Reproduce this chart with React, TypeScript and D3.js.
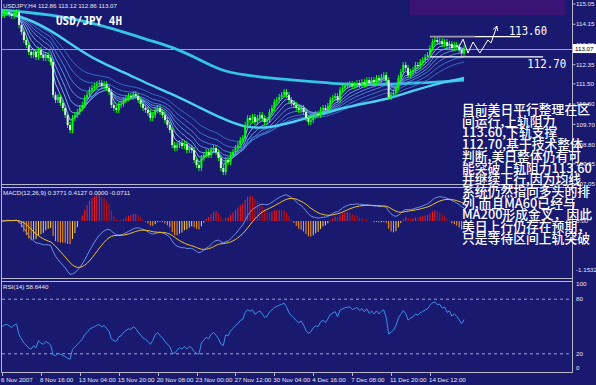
import React from 'react';
import * as d3 from 'd3';

// ---------- data ----------
const closes = [
  114.56, 114.65, 114.69, 114.61, 114.52, 114.65, 114.69, 114.12, 113.81, 113.45,
  113.23, 112.92, 112.78, 112.92, 112.69, 113.01, 112.78, 112.65, 112.78, 112.65,
  112.47, 111.01, 110.78, 110.92, 110.65, 110.43, 110.12, 109.67, 109.45, 109.98,
  110.12, 110.25, 110.43, 110.56, 110.87, 111.01, 111.23, 111.32, 111.41, 111.49,
  111.54, 111.41, 111.49, 111.32, 111.14, 110.56, 110.43, 110.34, 110.56, 110.61,
  110.78, 110.87, 110.96, 110.92, 111.05, 110.96, 110.78, 110.61, 110.43, 110.34,
  110.21, 109.98, 110.12, 110.34, 110.43, 110.25, 110.12, 109.89, 109.67, 109.45,
  108.78, 108.65, 108.78, 108.87, 108.74, 108.83, 108.56, 108.65, 108.56, 108.12,
  107.89, 107.76, 108.21, 108.34, 108.47, 108.34, 108.56, 108.65, 108.47, 108.21,
  107.76, 107.58, 108.12, 108.03, 108.34, 108.47, 108.65, 108.78, 109.01, 109.09,
  109.67, 109.98, 109.89, 110.03, 109.81, 109.98, 110.12, 109.98, 109.81, 109.89,
  110.25, 110.43, 110.69, 110.78, 110.92, 111.01, 111.14, 111.01, 110.78, 110.65,
  110.56, 110.43, 110.34, 110.43, 110.25, 109.98, 109.81, 109.89, 110.07, 110.16,
  110.12, 110.34, 110.43, 110.34, 110.52, 110.78, 110.87, 110.96, 110.78, 111.23,
  111.32, 111.41, 111.45, 111.49, 111.41, 111.45, 111.54, 111.45, 111.58, 111.49,
  111.67, 111.54, 111.67, 111.58, 111.76, 111.67, 111.81, 111.89, 111.67, 110.92,
  111.01, 111.10, 111.32, 111.76, 112.03, 112.34, 112.21, 111.89, 112.03, 112.12,
  112.34, 112.29, 112.47, 112.56, 112.69, 112.78, 113.09, 113.36, 113.45, 113.36,
  113.40, 113.27, 113.36, 113.18, 113.27, 113.09, 113.23, 113.14, 113.01, 112.86,
  113.07,
];

// thick moving averages, read every 10 bars
const maSampleStep = 10;
const ma60Samples = [
  114.69, 114.43, 113.89, 113.14, 112.47, 112.03, 111.49, 111.05, 110.52, 109.98,
  109.54, 109.54, 109.81, 110.12, 110.43, 110.65, 110.87, 111.23, 111.54, 111.76,
];
const ma200Samples = [
  114.78, 114.69, 114.56, 114.38, 114.12, 113.81, 113.45, 113.14, 112.65, 112.07,
  111.89, 111.76, 111.67, 111.58, 111.49, 111.45, 111.49, 111.54, 111.58, 111.67,
];

const ribbonPeriods = [4, 7, 11, 16, 22, 30, 40];
const ribbonColors = ['#a4c8ff', '#8cbafc', '#76aaf4', '#629aec', '#508ce2', '#437ed6', '#3873ca'];

const timeLabels = [
  '6 Nov 2007', '8 Nov 16:00', '13 Nov 04:00', '15 Nov 20:00', '20 Nov 08:00', '23 Nov 00:00',
  '27 Nov 12:00', '30 Nov 04:00', '4 Dec 16:00', '7 Dec 08:00', '11 Dec 20:00', '14 Dec 12:00',
];
const timeLabelBars = [0, 16, 32, 48, 64, 80, 96, 112, 128, 144, 160, 176];

const priceTicks = ['115.05', '114.15', '113.25', '112.35', '111.50', '110.60', '109.70', '108.80', '107.95', '107.05'];
const rsiTicks = [100, 80, 20, 0];
const rsiLevels = [80, 20];
const macdMinLabel = -1.1532;

const lastPrice = 113.07;
const resistance = 113.6;
const support = 112.7;
// zigzag forecast: [bar index, price]
const zigzag: [number, number][] = [
  [187.9, 113.14], [189.6, 113.49], [191.6, 112.87], [193.7, 113.36],
  [196.5, 112.87], [199.8, 113.45], [201.1, 113.32], [203.5, 114.07],
];

const title = 'USDJPY,H4  112.86 113.12 112.86 113.07';
const macdTitle = 'MACD(12,26,9) 0.3771 0.4127 0.0000 -0.0711';
const rsiTitle = 'RSI(14) 58.6440';
const chartLabel = 'USD/JPY 4H';

const noteLines = [
  '目前美日平行整理在区',
  '间运行,上轨阻力',
  '113.60,下轨支撑',
  '112.70,基于技术整体',
  '判断,美日整体仍有可',
  '能突破上轨阻力113.60',
  '并继续上行,因为均线',
  '系统仍然指向多头的排',
  '列,而且MA60已经与',
  'MA200形成金叉，因此',
  '美日上行仍存在预期，',
  '只是等待区间上轨突破',
];

// ---------- indicator helpers ----------
function ema(arr: number[], n: number): number[] {
  const k = 2 / (n + 1);
  const out: number[] = [];
  let prev = arr[0];
  arr.forEach((v, i) => {
    prev = i === 0 ? v : v * k + prev * (1 - k);
    out.push(prev);
  });
  return out;
}
function rsiCalc(c: number[], n: number): number[] {
  let ag = 0.1, al = 0.1;
  const out = [50];
  for (let i = 1; i < c.length; i++) {
    const ch = c[i] - c[i - 1];
    ag = (ag * (n - 1) + Math.max(ch, 0)) / n;
    al = (al * (n - 1) + Math.max(-ch, 0)) / n;
    out.push(100 - 100 / (1 + ag / al));
  }
  return out;
}

const BG = '#191970';
const AXIS = '#b8b8c8';
const TXT = '#e8e8f0';
const SMALL = "'Liberation Sans', Arial, sans-serif";

export default function App() {
  const W = 596, H = 385;
  const xR = 572.5;
  const x = d3.scaleLinear().domain([0, 176]).range([2, 430]);
  const y = d3.scaleLinear().domain([107.05, 115.05]).range([184, 4]);
  const ym = d3.scaleLinear().domain([macdMinLabel, 0.68]).range([277, 188]);
  const yr = d3.scaleLinear().domain([0, 100]).range([372, 281]);

  const opens = closes.map((c, i) => (i === 0 ? c : closes[i - 1]));
  const idx = closes.map((_, i) => i);

  const lineP = d3.line<[number, number]>().x(d => x(d[0])).y(d => y(d[1]));
  const smoothP = d3.line<[number, number]>().x(d => x(d[0])).y(d => y(d[1])).curve(d3.curveBasis);

  const ribbons = ribbonPeriods.map(p => ema(closes, p));
  const ma60 = ma60Samples.map((v, i) => [i * maSampleStep, v] as [number, number]);
  const ma200 = ma200Samples.map((v, i) => [i * maSampleStep, v] as [number, number]);

  const e12 = ema(closes, 12), e26 = ema(closes, 26);
  const macd = e12.map((v, i) => v - e26[i]);
  const signal = ema(macd, 9);
  const hist = macd.map((v, i) => 2 * (v - signal[i]));
  const rsi = rsiCalc(closes, 14);

  const lineM = d3.line<number>().x((_, i) => x(i)).y(d => ym(d));
  const lineR = d3.line<number>().x((_, i) => x(i)).y(d => yr(d));

  const zz = zigzag.map(([b, p]) => [x(b), y(p)] as [number, number]);
  const tip = zz[zz.length - 1];
  const prevPt = zz[zz.length - 2];
  const ang = Math.atan2(tip[1] - prevPt[1], tip[0] - prevPt[0]);
  const ah = 5;
  const arrowHead = `M${tip[0] - ah * Math.cos(ang - 0.5)},${tip[1] - ah * Math.sin(ang - 0.5)}L${tip[0]},${tip[1]}L${tip[0] - ah * Math.cos(ang + 0.5)},${tip[1] - ah * Math.sin(ang + 0.5)}`;

  return (
    <svg width={W} height={H} style={{ position: 'absolute', left: 0, top: 0, display: 'block' }}>
      <defs>
        <clipPath id="cMain"><rect x={2} y={2} width={570} height={182} /></clipPath>
        <clipPath id="cMacd"><rect x={2} y={188} width={570} height={90} /></clipPath>
        <clipPath id="cRsi"><rect x={2} y={282} width={570} height={90} /></clipPath>
      </defs>
      <rect x={0} y={0} width={W} height={H} fill={BG} />

      {/* purple banner */}
      <rect x={410} y={0} width={155} height={15} fill="#3b1377" />

      {/* panel borders */}
      <g stroke={AXIS} strokeWidth={1} fill="none">
        <line x1={1.5} y1={0} x2={1.5} y2={372.5} />
        <line x1={xR} y1={0} x2={xR} y2={372.5} />
        <line x1={1.5} y1={184.5} x2={xR} y2={184.5} />
        <line x1={1.5} y1={187.5} x2={xR} y2={187.5} />
        <line x1={1.5} y1={278.5} x2={xR} y2={278.5} />
        <line x1={1.5} y1={281.5} x2={xR} y2={281.5} />
        <line x1={1.5} y1={372.5} x2={xR} y2={372.5} />
      </g>

      {/* main panel */}
      <g clipPath="url(#cMain)">
        <line x1={2} x2={572} y1={Math.round(y(lastPrice)) + 0.5} y2={Math.round(y(lastPrice)) + 0.5} stroke="#a898c8" strokeWidth={1} />
        <path d={smoothP(ma200) || ''} fill="none" stroke="#34c4e4" strokeWidth={2.8} />
        {ribbons.map((r, k) => (
          <path key={k} d={lineP(r.map((v, i) => [i, v] as [number, number])) || ''} fill="none" stroke={ribbonColors[k]} strokeWidth={1} opacity={0.9} />
        ))}
        <path d={smoothP(ma60) || ''} fill="none" stroke="#4cd0f2" strokeWidth={2.4} />
        {idx.map(i => {
          const o = opens[i], c = closes[i];
          const top = y(Math.max(o, c)), bot = y(Math.min(o, c));
          const up = c >= o;
          return (
            <g key={i}>
              <line x1={x(i)} x2={x(i)} y1={top - 3} y2={bot + 3} stroke="#00ff00" strokeWidth={1} />
              <rect x={x(i) - 1} y={top} width={2} height={Math.max(1, bot - top)} fill={up ? '#00ff00' : '#d0f8d0'} />
            </g>
          );
        })}
        {/* resistance / support */}
        <line x1={x(176)} x2={x(194.5)} y1={y(resistance)} y2={y(resistance)} stroke="#9a9aa8" strokeWidth={1.6} />
        <line x1={x(194.5)} x2={x(213)} y1={y(resistance)} y2={y(resistance)} stroke="#ffffff" strokeWidth={1.2} />
        <line x1={x(176)} x2={x(222.5)} y1={y(support)} y2={y(support)} stroke="#ffffff" strokeWidth={1.2} />
        <path d={d3.line()(zz) || ''} fill="none" stroke="#ffffff" strokeWidth={1} />
        <path d={arrowHead} fill="none" stroke="#ffffff" strokeWidth={1} />
        <text x={x(208.5)} y={y(resistance) - 1.5} fill="#ffffff" fontFamily="'DejaVu Sans Mono', monospace" fontSize={11.5} textLength={38} lengthAdjust="spacingAndGlyphs">113.60</text>
        <text x={x(216)} y={y(support) + 11} fill="#ffffff" fontFamily="'DejaVu Sans Mono', monospace" fontSize={11.5} textLength={39} lengthAdjust="spacingAndGlyphs">112.70</text>
        <text x={56} y={25} fill="#ffffff" fontFamily="'DejaVu Sans Mono', monospace" fontWeight="bold" fontSize={12.5} textLength={66} lengthAdjust="spacingAndGlyphs">{chartLabel}</text>
      </g>
      <text x={3} y={8} fill={TXT} fontFamily={SMALL} fontSize={6.2}>{title}</text>

      {/* price axis */}
      {priceTicks.map(t => (
        <g key={t}>
          <line x1={xR} x2={xR + 3} y1={y(+t)} y2={y(+t)} stroke={AXIS} />
          <text x={576} y={y(+t)} dy="0.35em" fill={TXT} fontFamily={SMALL} fontSize={6.2}>{t}</text>
        </g>
      ))}
      <rect x={573} y={y(lastPrice) - 4.5} width={23} height={9} fill="#ffffff" />
      <text x={575} y={y(lastPrice)} dy="0.35em" fill="#000000" fontFamily={SMALL} fontSize={6.2}>{lastPrice.toFixed(2)}</text>

      {/* MACD panel */}
      <g clipPath="url(#cMacd)">
        {hist.map((h, i) => {
          const rising = i > 0 ? h >= hist[i - 1] : true;
          const col = h >= 0 ? (rising ? '#ff1a1a' : '#c81010') : (rising ? '#ffd23a' : '#ff9a10');
          return <line key={i} x1={x(i)} x2={x(i)} y1={ym(0)} y2={ym(h)} stroke={col} strokeWidth={1} />;
        })}
        <path d={lineM(macd) || ''} fill="none" stroke="#6f8fe6" strokeWidth={1} />
        <path d={lineM(signal) || ''} fill="none" stroke="#f2c428" strokeWidth={1} />
      </g>
      <text x={3} y={195} fill={TXT} fontFamily={SMALL} fontSize={6.2}>{macdTitle}</text>
      <text x={576} y={ym(0)} dy="0.35em" fill={TXT} fontFamily={SMALL} fontSize={6.2}>0.00</text>
      <text x={576} y={270} dy="0.35em" fill={TXT} fontFamily={SMALL} fontSize={6.2}>{macdMinLabel.toFixed(4)}</text>

      {/* RSI panel */}
      <g clipPath="url(#cRsi)">
        {rsiLevels.map(l => (
          <line key={l} x1={2} x2={572} y1={yr(l)} y2={yr(l)} stroke="#c8c8e0" strokeWidth={0.8} strokeDasharray="3,3" />
        ))}
        <path d={lineR(rsi) || ''} fill="none" stroke="#3b8fe6" strokeWidth={1} />
      </g>
      <text x={3} y={289} fill={TXT} fontFamily={SMALL} fontSize={6.2}>{rsiTitle}</text>
      {rsiTicks.map(t => (
        <text key={t} x={576} y={Math.min(368, Math.max(284, yr(t)))} dy="0.35em" fill={TXT} fontFamily={SMALL} fontSize={6.2}>{t}</text>
      ))}

      {/* time axis */}
      {timeLabelBars.map((b, k) => (
        <g key={b}>
          <line x1={Math.round(x(b)) + 0.5} x2={Math.round(x(b)) + 0.5} y1={372} y2={376} stroke={AXIS} />
          <text x={x(b) - 1} y={380} dy="0.35em" fill={TXT} fontFamily={SMALL} fontSize={6.2}>{timeLabels[k]}</text>
        </g>
      ))}

      {/* commentary */}
      <g fontFamily="'Noto Sans CJK SC', sans-serif" fontSize={12.8} fontWeight={500} fill="#ffffff">
        {noteLines.map((l, k) => (
          <text key={k} x={462} y={114 + k * 11.7}>{l}</text>
        ))}
      </g>
    </svg>
  );
}
